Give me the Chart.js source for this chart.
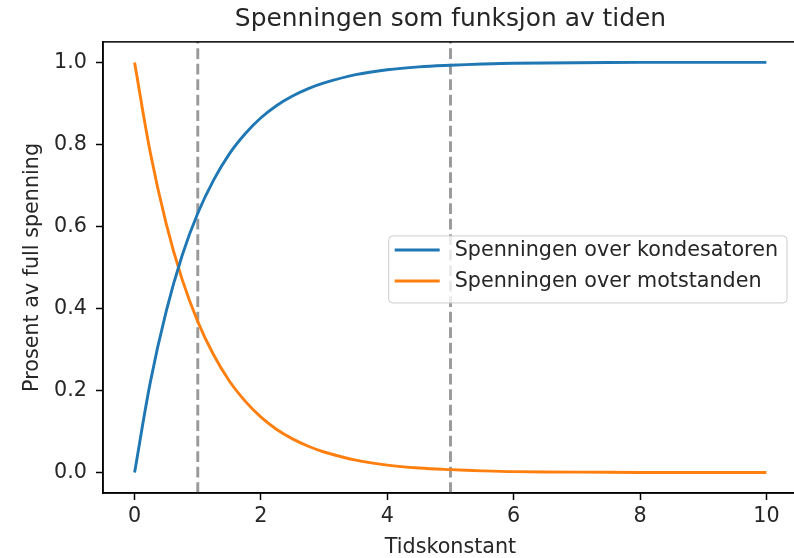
<!DOCTYPE html>
<html>
<head>
<meta charset="utf-8">
<script src="https://cdn.jsdelivr.net/npm/chart.js@4.4.1/dist/chart.umd.min.js"></script>
<style>
  html, body { margin: 0; padding: 0; background: #fff; overflow: hidden; }
  #wrap { width: 800px; height: 558px; }
</style>
</head>
<body>
<div id="wrap"><canvas id="chart" width="800" height="558"></canvas></div>
<script>
// tid i tidskonstanter
const tider = [0, 0.25, 0.5, 0.75, 1, 1.25, 1.5, 1.75, 2, 2.25, 2.5, 2.75, 3, 3.5, 4, 4.5, 5, 5.5, 6, 7, 8, 9, 10];
const kondensator = [0, 0.221, 0.393, 0.528, 0.632, 0.713, 0.777, 0.826, 0.865, 0.895, 0.918, 0.936, 0.95, 0.97, 0.982, 0.989, 0.993, 0.996, 0.998, 0.999, 1.0, 1.0, 1.0];
const motstand = [1, 0.779, 0.607, 0.472, 0.368, 0.287, 0.223, 0.174, 0.135, 0.105, 0.082, 0.064, 0.05, 0.03, 0.018, 0.011, 0.007, 0.004, 0.002, 0.001, 0, 0, 0];
const markerTider = [1, 5];
const xTicks = [0, 2, 4, 6, 8, 10];
const yTicks = [0, 0.2, 0.4, 0.6, 0.8, 1.0];

const X_MIN = -0.5, X_MAX = 10.5, Y_MIN = -0.05, Y_MAX = 1.05;
const FS = 20.7;

Chart.defaults.font.family = 'DejaVu Sans';
Chart.defaults.font.size = FS;
Chart.defaults.color = '#262626';

const toPts = ys => tider.map((t, i) => ({ x: t, y: ys[i] }));

const datasets = [
  {
    label: 'Spenningen over kondesatoren',
    data: toPts(kondensator),
    borderColor: '#1f77b4',
    borderWidth: 2.9,
    tension: 0.35,
    pointRadius: 0,
    showLine: true
  },
  {
    label: 'Spenningen over motstanden',
    data: toPts(motstand),
    borderColor: '#ff7f0e',
    borderWidth: 2.9,
    tension: 0.35,
    pointRadius: 0,
    showLine: true
  }
];
markerTider.forEach(t => datasets.push({
  label: '',
  data: [{ x: t, y: Y_MIN }, { x: t, y: Y_MAX }],
  borderColor: 'rgba(128,128,128,0.8)',
  borderWidth: 2.9,
  borderDash: [10.8, 4.7],
  pointRadius: 0,
  showLine: true,
  inLegend: false
}));

// ramme rundt plottet + legende inne i plottet (som matplotlib)
const spines = {
  id: 'spines',
  afterDatasetsDraw(chart) {
    const { ctx, chartArea: a } = chart;
    ctx.save();
    ctx.strokeStyle = '#000';
    ctx.lineWidth = 1.5;
    ctx.strokeRect(a.left, a.top, a.right - a.left, a.bottom - a.top);

    const items = chart.data.datasets.filter(d => d.inLegend !== false);
    ctx.font = FS + 'px "DejaVu Sans"';
    const textW = Math.max(...items.map(d => ctx.measureText(d.label).width));
    const padL = 6, padR = 9, handle = 45, gap = 15, rowH = 31;
    const w = padL + handle + gap + textW + padR;
    const h = 67;
    const right = a.right - 11;
    const left = right - w;
    const top = (a.top + a.bottom) / 2 - h / 2 + 2;
    ctx.beginPath();
    ctx.roundRect(left, top, w, h, 4);
    ctx.fillStyle = 'rgba(255,255,255,0.8)';
    ctx.fill();
    ctx.strokeStyle = '#cccccc';
    ctx.lineWidth = 1;
    ctx.stroke();
    ctx.textBaseline = 'middle';
    ctx.textAlign = 'left';
    items.forEach((d, i) => {
      const y = top + 14 + i * rowH;
      ctx.beginPath();
      ctx.moveTo(left + padL, y);
      ctx.lineTo(left + padL + handle, y);
      ctx.strokeStyle = d.borderColor;
      ctx.lineWidth = 2.9;
      ctx.stroke();
      ctx.fillStyle = '#262626';
      ctx.fillText(d.label, left + padL + handle + gap, y + 1);
    });
    ctx.restore();
  }
};

new Chart(document.getElementById('chart').getContext('2d'), {
  type: 'scatter',
  data: { datasets },
  options: {
    responsive: false,
    animation: false,
    parsing: false,
    layout: { padding: { left: 0, right: 2, top: 0, bottom: 0 } },
    plugins: {
      legend: { display: false },
      tooltip: { enabled: false },
      title: {
        display: true,
        text: 'Spenningen som funksjon av tiden',
        fullSize: false,
        font: { size: 24.9, weight: 'normal' },
        color: '#262626',
        padding: { top: 5, bottom: 7 }
      }
    },
    scales: {
      x: {
        type: 'linear',
        min: X_MIN, max: X_MAX,
        afterFit: s => { s.height = 65; },
        afterBuildTicks: s => { s.ticks = xTicks.map(v => ({ value: v })); },
        ticks: { padding: 4, callback: v => String(v), maxRotation: 0 },
        grid: { drawOnChartArea: false, tickLength: 7, tickWidth: 1.5, tickColor: '#000' },
        border: { display: true, color: '#000', width: 1.5 },
        title: { display: true, text: 'Tidskonstant', padding: { top: 0, bottom: -2 } }
      },
      y: {
        type: 'linear',
        min: Y_MIN, max: Y_MAX,
        afterFit: s => { s.width = 103; },
        afterBuildTicks: s => { s.ticks = yTicks.map(v => ({ value: v })); },
        ticks: { padding: 9, callback: v => v.toFixed(1) },
        grid: { drawOnChartArea: false, tickLength: 7, tickWidth: 1.5, tickColor: '#000' },
        border: { display: true, color: '#000', width: 1.5 },
        title: { display: true, text: 'Prosent av full spenning', padding: { top: 20.5, bottom: 0 } }
      }
    }
  },
  plugins: [spines]
});
</script>
</body>
</html>
